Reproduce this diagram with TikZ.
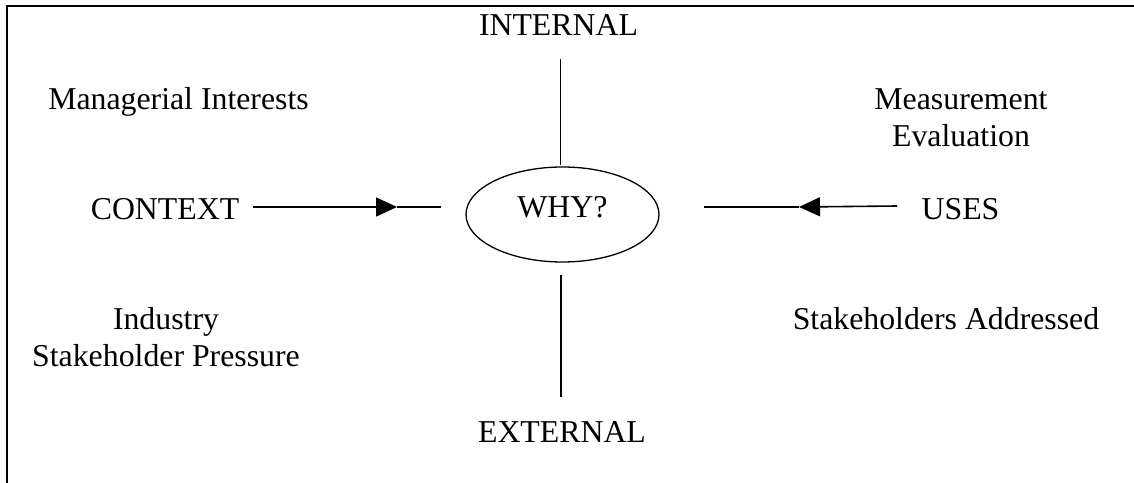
\documentclass[tikz,border=0pt]{standalone}
\usepackage{fontspec}
\setmainfont{Liberation Serif}
\usetikzlibrary{shapes.geometric,arrows.meta}
\begin{document}
\begin{tikzpicture}[x=1bp,y=-1bp,
  lbl/.style={font=\fontsize{31.8bp}{36.5bp}\selectfont, inner sep=0pt, anchor=base, align=center},
  rule/.style={line width=1.6bp},
  frameline/.style={line width=2bp},
  flow/.style={rule,-{Triangle[length=21bp,width=19bp]}},
  hub/.style={draw, ellipse, line width=1.3bp, minimum width=193bp, minimum height=95bp,
              inner sep=0pt, text depth=16bp, font=\fontsize{31.8bp}{36.5bp}\selectfont}]
\useasboundingbox (0,0) rectangle (1134,483);

% open frame: top and left edges
\draw[frameline] (1134,5.7) -- (6.7,5.7) -- (6.7,483);

% labels (two-line labels are anchored at their last baseline)
\node[lbl] (internal)   at (558.5,36)  {INTERNAL};
\node[lbl] (external)   at (562,442)   {EXTERNAL};
\node[lbl] (context)    at (165,220)   {CONTEXT};
\node[lbl] (uses)       at (960.5,220) {USES};
\node[lbl] (managerial) at (178.5,110) {Managerial Interests};
\node[lbl] (measure)    at (961,146.5) {Measurement\\Evaluation};
\node[lbl] (industry)   at (166,366.5) {Industry\\Stakeholder Pressure};
\node[lbl] (addressed)  at (946,330)   {Stakeholders Addressed};

% central question
\node[hub] (why) at (562.5,214.5) {WHY?\hspace{18bp}};

% line ends
\coordinate (ctxL)   at (253,207);
\coordinate (ctxTip) at (397,207);
\coordinate (ctxR)   at (441,207);
\coordinate (usesR)  at (897,206);
\coordinate (usesTip) at (799,207);
\coordinate (usesL)  at (704,207);
\coordinate (intTop) at (560.5,59);
\coordinate (intBot) at (560.5,165);
\coordinate (extTop) at (561,275);
\coordinate (extBot) at (561,397);

% horizontal arrows with mid-line heads
\draw[flow] (ctxL) -- (ctxTip);
\draw[rule] (ctxTip) -- (ctxR);
\draw[flow] (usesR) -- (usesTip);
\draw[rule] (usesTip) -- (usesL);

% vertical axis
\draw[rule] (intTop) -- (intBot);
\draw[rule] (extTop) -- (extBot);
\end{tikzpicture}
\end{document}
